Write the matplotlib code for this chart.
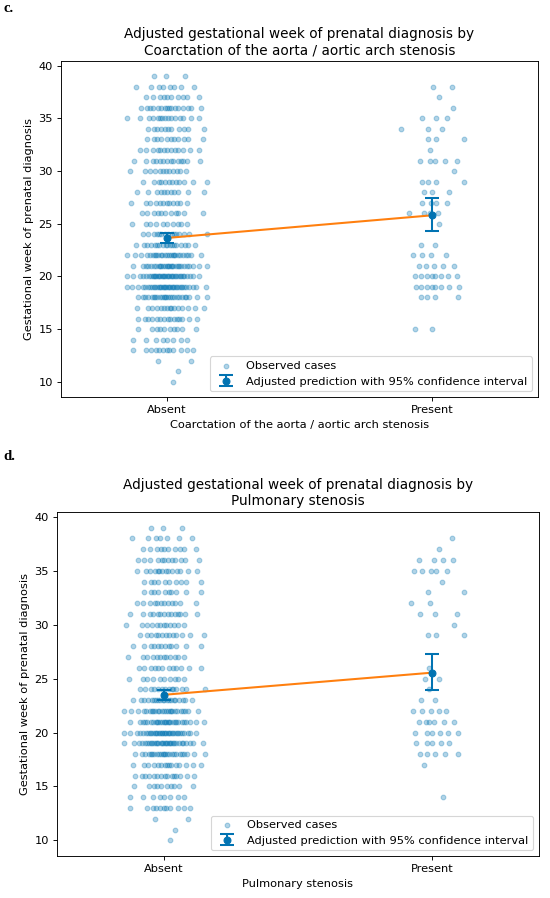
import matplotlib
matplotlib.use("Agg")
import matplotlib.pyplot as plt
import numpy as np
from statistics import NormalDist

weeks = list(range(10, 40))

# counts of observed cases per gestational week (10..39)
coa_absent = [1, 1, 2, 12, 8, 10, 15, 15, 25, 35, 35, 28, 25, 18, 15,
              10, 11, 12, 11, 12, 12, 14, 13, 11, 11, 15, 16, 10, 8, 3]
coa_present = [0, 0, 0, 0, 0, 2, 0, 0, 4, 8, 8, 5, 4, 2, 0,
               1, 4, 4, 3, 4, 1, 5, 1, 3, 3, 3, 1, 1, 2, 0]
ps_absent = [1, 1, 2, 11, 8, 10, 15, 15, 24, 32, 34, 28, 25, 20, 14,
             10, 12, 12, 12, 13, 12, 14, 12, 10, 10, 14, 12, 10, 7, 3]
ps_present = [0, 0, 0, 0, 1, 0, 0, 1, 5, 5, 6, 6, 5, 2, 1,
              2, 1, 0, 0, 3, 1, 3, 2, 2, 1, 5, 4, 1, 1, 0]

groups = ['Absent', 'Present']

# adjusted predictions and 95% CI
coa_pred = [23.65, 25.8]
coa_low = [23.2, 24.3]
coa_high = [24.1, 27.4]
ps_pred = [23.5, 25.55]
ps_low = [23.05, 23.95]
ps_high = [23.95, 27.25]

BLUE = '#0173b2'
ORANGE = '#ff7f0e'
DPI = 82


def row_jitter(n, sd, row):
    # deterministic horizontal spread within one week row
    nd = NormalDist(0, sd)
    phi = (np.sqrt(5) - 1) / 2
    off = (row * np.sqrt(2) + 0.37 * row * row * phi) % 1
    u = [(off + k * phi) % 1 for k in range(n)]
    u = [min(max(v, 0.01), 0.99) for v in u]
    return np.array([nd.inv_cdf(v) for v in u])


def draw(ax, absent, present, pred, low, high, title, xlabel):
    for gi, counts in enumerate([absent, present]):
        sd = 0.065 if gi == 0 else 0.052
        xs_all, ys_all = [], []
        for ri, (w, c) in enumerate(zip(weeks, counts)):
            if c == 0:
                continue
            xs_all.append(gi + row_jitter(c, sd, ri + 1 + 17 * gi))
            ys_all.append(np.full(c, w))
        ax.scatter(np.concatenate(xs_all), np.concatenate(ys_all), s=17,
                   color=BLUE, alpha=0.3,
                   label='Observed cases' if gi == 0 else None)
    xs = np.arange(len(groups))
    ax.plot(xs, pred, color=ORANGE, lw=1.8, zorder=3)
    err = [np.array(pred) - np.array(low), np.array(high) - np.array(pred)]
    ax.errorbar(xs, pred, yerr=err, fmt='o', color=BLUE, ms=6,
                elinewidth=1.8, capsize=6, capthick=1.8, zorder=4,
                label='Adjusted prediction with 95% confidence interval')
    ax.set_xticks(xs)
    ax.set_xticklabels(groups)
    ax.set_xlim(-0.4, 1.4)
    ax.set_yticks([10, 15, 20, 25, 30, 35, 40])
    ax.set_ylabel('Gestational week of prenatal diagnosis')
    ax.set_xlabel(xlabel)
    ax.set_title(title)
    ax.legend(loc='lower right')


fig = plt.figure(figsize=(550 / DPI, 898 / DPI), dpi=DPI)
ax1 = fig.add_axes([61 / 550, 1 - 397 / 898, 477 / 550, 336 / 898])
ax2 = fig.add_axes([57 / 550, 1 - 856 / 898, 482 / 550, 344 / 898])

draw(ax1, coa_absent, coa_present, coa_pred, coa_low, coa_high,
     'Adjusted gestational week of prenatal diagnosis by\n'
     'Coarctation of the aorta / aortic arch stenosis',
     'Coarctation of the aorta / aortic arch stenosis')
draw(ax2, ps_absent, ps_present, ps_pred, ps_low, ps_high,
     'Adjusted gestational week of prenatal diagnosis by\nPulmonary stenosis',
     'Pulmonary stenosis')

fig.text(3 / 550, 1 - 9 / 898, 'c.', family='Liberation Serif', weight='bold',
         fontsize=13, va='center', ha='left')
fig.text(3 / 550, 1 - 457 / 898, 'd.', family='Liberation Serif', weight='bold',
         fontsize=13, va='center', ha='left')

fig.savefig('out.png', dpi=DPI)
